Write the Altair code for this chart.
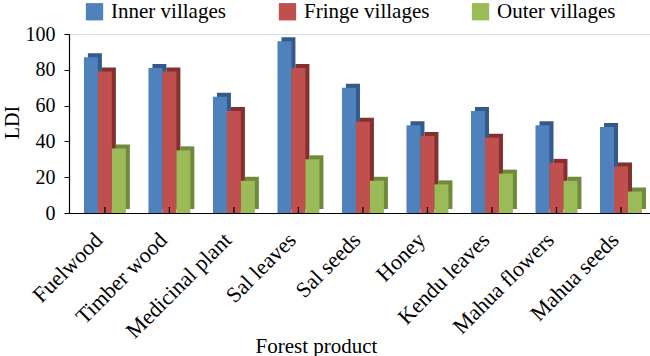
import altair as alt
import pandas as pd

categories = ["Fuelwood", "Timber wood", "Medicinal plant", "Sal leaves", "Sal seeds",
              "Honey", "Kendu leaves", "Mahua flowers", "Mahua seeds"]
series = ["Inner villages", "Fringe villages", "Outer villages"]
inner = [87, 81, 65, 96, 70, 49, 57, 49, 48]
fringe = [79, 79, 57, 81, 51, 43, 42, 28, 26]
outer = [36, 35, 18, 30, 18, 16, 22, 18, 12]

front_colors = ["#4F81BD", "#C0504D", "#9BBB59"]
side_colors = ["#34598A", "#83312F", "#6E8A3A"]

rows = []
for i, c in enumerate(categories):
    for s, vals in zip(series, [inner, fringe, outer]):
        rows.append({"product": c, "series": s, "LDI": vals[i]})
df = pd.DataFrame(rows)

W, H = 581, 179
PI, PO, ALIGN = 0.35, 0.178, 0.65
step = W / (len(categories) - PI + 2 * PO)
bw = step * (1 - PI)
depth = 4

font = "Liberation Serif"

x = alt.X("product:N", sort=categories,
          scale=alt.Scale(paddingInner=PI, paddingOuter=PO, align=ALIGN),
          axis=alt.Axis(title="Forest product", labelAngle=-45, labelAlign="right",
                        labelBaseline="middle", labelFontSize=22, titleFontSize=21,
                        ticks=False, domainColor="black", domainWidth=1.2,
                        labelColor="black", titleColor="black", labelPadding=23,
                        labelOffset=-6,
                        titleFontWeight="normal", titleX=247, titleY=122,
                        labelFont=font, titleFont=font))
y = alt.Y("LDI:Q", scale=alt.Scale(domain=[0, 100], nice=False),
          axis=alt.Axis(title="LDI", values=[0, 20, 40, 60, 80, 100], grid=False,
                        labelFontSize=20, titleFontSize=20, tickSize=5,
                        tickColor="black", domainColor="black", domainWidth=1.2,
                        labelColor="black", titleColor="black", labelPadding=9,
                        titleFontWeight="normal", titleX=-47, titleY=88,
                        labelFont=font, titleFont=font))

shadow = alt.Chart(df).mark_bar(yOffset=-depth).encode(
    x=x,
    y=y,
    xOffset=alt.XOffset("series:N", sort=series,
                        scale=alt.Scale(domain=series, range=[depth, bw + depth],
                                        paddingInner=0, paddingOuter=0)),
    color=alt.Color("series:N", scale=alt.Scale(domain=series, range=side_colors),
                    legend=None),
)

front = alt.Chart(df).mark_bar().encode(
    x=x,
    y=y,
    xOffset=alt.XOffset("series:N", sort=series,
                        scale=alt.Scale(domain=series, range=[0, bw],
                                        paddingInner=0, paddingOuter=0)),
    color=alt.Color("series:N", sort=series,
                    scale=alt.Scale(domain=series, range=front_colors),
                    legend=alt.Legend(title=None, orient="none", direction="horizontal",
                                      legendX=15, legendY=-33, symbolType="square",
                                      symbolSize=300, symbolStrokeWidth=0,
                                      labelFontSize=21, labelFont=font,
                                      labelColor="black", gridAlign="all",
                                      columnPadding=40, labelOffset=6,
                                      labelLimit=300)),
)

ticks = alt.Chart(pd.DataFrame({"product": categories})).mark_rule(
    color="black", strokeWidth=1.2).encode(
    x=alt.X("product:N", sort=categories),
    y=alt.value(H - 6),
    y2=alt.value(H),
)

chart = alt.layer(shadow, front, ticks).resolve_scale(
    color="independent", xOffset="independent").properties(
    width=W, height=H,
    autosize=alt.AutoSizeParams(type="none"),
    padding={"left": 69, "top": 34, "right": 0, "bottom": 143},
    background="white",
).configure_view(stroke=None).configure(font=font)

chart.save("out.html", embed_options={"renderer": "svg", "actions": False})
